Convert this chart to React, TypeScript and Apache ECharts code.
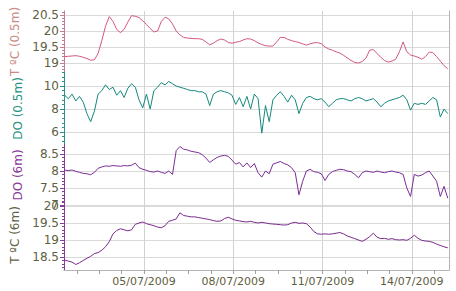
import React, { useEffect, useRef } from "react";
import * as echarts from "echarts";

// Sampling: data logger readings every 3 hours starting 02/07/2009 08:00 (UTC)
const START_UTC = Date.UTC(2009, 6, 2, 8, 0);
const STEP_HOURS = 3;

const tempSurface = [
  19.2, 19.21, 19.22, 19.23, 19.21, 19.18, 19.14, 19.09, 19.1, 19.3,
  19.7, 20.15, 20.45, 20.3, 20.05, 19.95, 20.05, 20.28, 20.48, 20.46,
  20.42, 20.32, 20.2, 20.08, 19.97, 20.0, 20.3, 20.43, 20.38, 20.22,
  20.0, 19.88, 19.8, 19.78, 19.77, 19.76, 19.76, 19.74, 19.66, 19.57,
  19.62, 19.7, 19.75, 19.72, 19.64, 19.62, 19.65, 19.67, 19.72, 19.76,
  19.75, 19.7, 19.63, 19.58, 19.54, 19.53, 19.53, 19.66, 19.8, 19.8,
  19.74, 19.7, 19.67, 19.64, 19.6, 19.56, 19.6, 19.63, 19.64, 19.6,
  19.5, 19.44, 19.4, 19.35, 19.31, 19.24, 19.16, 19.08, 19.02, 19.0,
  19.05, 19.15, 19.4, 19.42, 19.3, 19.18, 19.08, 19.03, 19.06, 19.12,
  19.35, 19.66, 19.35, 19.25, 19.22, 19.18, 19.12, 19.2, 19.34, 19.33,
  19.2, 19.06, 18.92, 18.82,
];

const doSurface = [
  9.2, 8.9, 9.3, 8.7, 9.1, 8.6, 7.6, 6.9, 7.8, 9.3,
  9.6, 10.1, 9.7, 9.9, 9.2, 9.6, 9.0, 9.8, 10.2, 9.9,
  8.8, 8.1, 9.3, 8.0, 9.6, 9.9, 10.3, 10.1, 10.4, 10.2,
  10.0, 9.9, 9.8, 9.7, 9.6, 9.6, 9.5, 9.5, 9.3, 8.3,
  9.3, 9.5, 9.6, 9.5, 9.4, 9.2, 8.4, 9.0, 8.2, 9.1,
  8.0, 9.3, 8.9, 5.9, 8.3, 6.9, 8.8, 9.2, 9.5, 9.1,
  8.6, 9.2, 8.8, 7.6, 8.5, 9.0, 9.1, 8.9, 8.8, 8.9,
  8.6, 8.2, 8.5, 8.8, 8.9, 8.9, 8.8, 8.7, 8.9, 9.0,
  8.9, 8.7, 8.8, 8.9, 8.6, 8.2, 8.5, 8.7, 8.8, 8.9,
  9.0, 9.2, 8.8, 7.9, 8.5, 8.4, 8.5, 8.4, 8.7, 9.0,
  8.8, 7.3, 8.0, 7.6,
];

const doDeep = [
  8.03, 8.01, 8.03, 7.99, 7.96, 7.93, 7.92, 7.89, 7.96, 8.08,
  8.12, 8.15, 8.14, 8.16, 8.15, 8.14, 8.16, 8.15, 8.17, 8.23,
  8.1, 8.05, 8.02, 7.98, 7.97, 8.0, 7.96, 7.93, 8.0, 7.9,
  8.6, 8.72, 8.64, 8.62, 8.58, 8.56, 8.54, 8.48, 8.38, 8.25,
  8.33, 8.4, 8.44, 8.46, 8.43, 8.32, 8.2, 8.25, 8.12, 8.24,
  8.1, 8.22, 7.95, 7.82, 8.0, 7.92, 8.2, 8.24, 8.28, 8.22,
  8.18, 8.1, 7.95, 7.3, 7.7, 8.0, 8.05, 7.98, 7.96, 7.92,
  7.72, 7.9, 7.98, 8.02, 8.05, 8.04, 8.0, 7.98, 7.9, 7.8,
  7.95, 8.0, 7.98, 7.96, 8.0, 7.97, 7.95, 7.98, 8.0, 7.97,
  7.95, 7.9, 7.5, 7.25, 7.9, 7.85, 7.88, 7.95, 8.0, 7.85,
  7.7, 7.25, 7.55, 7.2,
];

const tempDeep = [
  18.41, 18.38, 18.35, 18.28, 18.33, 18.4, 18.46, 18.52, 18.6, 18.63,
  18.7, 18.8, 18.95, 19.18, 19.28, 19.33, 19.3, 19.27, 19.3, 19.46,
  19.5, 19.53, 19.48, 19.45, 19.42, 19.38, 19.36, 19.42, 19.55, 19.58,
  19.62, 19.8, 19.72, 19.7, 19.68, 19.68, 19.66, 19.64, 19.62, 19.6,
  19.57, 19.55, 19.56, 19.63, 19.67, 19.62, 19.58, 19.56, 19.54, 19.53,
  19.55, 19.52, 19.5, 19.52, 19.5, 19.48, 19.47, 19.46, 19.45, 19.44,
  19.45, 19.5, 19.52, 19.49, 19.5, 19.48, 19.38, 19.25, 19.18, 19.17,
  19.18, 19.17, 19.18, 19.2, 19.22, 19.18, 19.12, 19.08, 19.04, 19.0,
  18.96, 19.02, 19.1, 19.2, 19.08, 19.04, 19.05, 19.02, 19.04, 19.01,
  19.0, 19.01, 18.99, 19.05, 19.14, 19.05, 18.99, 18.97, 18.96, 18.93,
  18.88, 18.84, 18.8, 18.77,
];

// Axis ticks / labels
const dateLabels = [
  Date.UTC(2009, 6, 5),
  Date.UTC(2009, 6, 8),
  Date.UTC(2009, 6, 11),
  Date.UTC(2009, 6, 14),
];
const tempSurfaceTicks = [19, 19.5, 20, 20.5];
const doSurfaceTicks = [6, 8, 10];
const doDeepTicks = [7, 7.5, 8, 8.5];
const tempDeepTicks = [18.5, 19, 19.5, 20];

const X_MIN = Date.UTC(2009, 6, 2, 7, 30);
const X_MAX = Date.UTC(2009, 6, 15, 6, 0);
const HOUR = 3600 * 1000;

const FONT = "DejaVu Sans";
const TICK_TEXT = "#5f6040";
const GRID_LINE = "#dadada";
const FRAME = "#b4b4b4";

function steps(from: number, to: number, step: number): number[] {
  const out: number[] = [];
  const n = Math.round((to - from) / step);
  for (let k = 0; k <= n; k++) out.push(Math.round((from + k * step) * 1000) / 1000);
  return out;
}

function pad(n: number) {
  return n < 10 ? "0" + n : String(n);
}
function fmtDate(v: number) {
  const d = new Date(v);
  return pad(d.getUTCDate()) + "/" + pad(d.getUTCMonth() + 1) + "/" + d.getUTCFullYear();
}

export default function App() {
  const ref = useRef<HTMLDivElement>(null);

  useEffect(() => {
    if (!ref.current) return;
    const chart = echarts.init(ref.current, undefined, { renderer: "svg" });

    const toSeries = (vals: number[]) =>
      vals.map((v, i) => [START_UTC + i * STEP_HOURS * HOUR, v]);

    const xTicks: number[] = [];
    for (let t = dateLabels[0] - 3 * 18 * HOUR; t <= X_MAX; t += 18 * HOUR) xTicks.push(t);

    const panels = [
      { top: 11, height: 61, min: 18.72, max: 20.625, ticks: tempSurfaceTicks, minor: steps(18.8, 20.6, 0.1), name: "T ºC (0.5m)", nameColor: "#c98c86", axisColor: "#c77a94", lineColor: "#d4577f", data: tempSurface },
      { top: 72, height: 73, min: 4.87, max: 11.22, ticks: doSurfaceTicks, minor: steps(5.2, 11.2, 0.4), name: "DO (0.5m)", nameColor: "#2a9484", axisColor: "#2a9484", lineColor: "#14897d", data: doSurface },
      { top: 145, height: 60, min: 7.0, max: 8.765, ticks: doDeepTicks, minor: steps(7.0, 8.7, 0.1), name: "DO (6m)", nameColor: "#8a3a98", axisColor: "#8a3a98", lineColor: "#7b2d96", data: doDeep },
      { top: 200, height: 70, min: 18.118, max: 20.176, ticks: tempDeepTicks, minor: steps(18.2, 20.1, 0.1), name: "T ºC (6m)", nameColor: "#5e6347", axisColor: "#8a3a98", lineColor: "#7a2a8c", data: tempDeep },
    ];

    const grids: any[] = panels.map((p) => ({ left: 64, right: 7, top: p.top, height: p.height }));
    grids.push({ left: 64, right: 7, top: 11, height: 259 });

    const xAxes: any[] = panels.map((p, g) => {
      const base: any = { gridIndex: g, type: "value", min: X_MIN, max: X_MAX };
      if (g < 3) return { ...base, show: false };
      return {
        ...base,
        position: "bottom",
        axisLine: { show: true, lineStyle: { color: FRAME } },
        axisTick: { show: true, length: 4, customValues: xTicks, lineStyle: { color: "#a0a0a0" } },
        axisLabel: { customValues: dateLabels, formatter: (v: number) => fmtDate(v), color: TICK_TEXT, fontSize: 11, fontFamily: FONT, margin: 6 },
        splitLine: { show: false },
      };
    });
    xAxes.push({
      gridIndex: 4,
      type: "value",
      min: X_MIN,
      max: X_MAX,
      position: "top",
      axisLine: { show: true, lineStyle: { color: FRAME } },
      axisTick: { show: false, customValues: dateLabels },
      axisLabel: { show: false },
      splitLine: { show: true, lineStyle: { color: "#d2d2d2" } },
    });

    const yAxes: any[] = panels.map((p, g) => ({
      gridIndex: g,
      type: "value",
      min: p.min,
      max: p.max,
      position: "left",
      axisLine: { show: true, lineStyle: { color: p.axisColor } },
      axisTick: { show: true, length: 4, customValues: p.ticks, lineStyle: { color: p.axisColor } },
      axisLabel: { customValues: p.ticks, formatter: (v: number) => String(v), color: TICK_TEXT, fontSize: 12, fontFamily: FONT, margin: 5 },
      splitLine: { show: true, lineStyle: { color: GRID_LINE } },
      name: p.name,
      nameLocation: "middle",
      nameGap: 40,
      nameTextStyle: { color: p.nameColor, fontSize: 12, fontFamily: FONT },
    }));
    panels.forEach((p, g) => {
      yAxes.push({
        gridIndex: g,
        type: "value",
        min: p.min,
        max: p.max,
        position: "left",
        axisLine: { show: false },
        axisTick: { show: true, length: 2, customValues: p.minor, lineStyle: { color: p.axisColor } },
        axisLabel: { show: false },
        splitLine: { show: false },
      });
    });
    yAxes.push({
      gridIndex: 4,
      type: "value",
      min: 0,
      max: 1,
      position: "right",
      axisLine: { show: true, lineStyle: { color: FRAME } },
      axisTick: { show: false },
      axisLabel: { show: false },
      splitLine: { show: false },
    });

    const series = panels.map((p, g) => ({
      type: "line",
      xAxisIndex: g,
      yAxisIndex: g,
      data: toSeries(p.data),
      showSymbol: false,
      symbol: "none",
      lineStyle: { color: p.lineColor, width: 1 },
      itemStyle: { color: p.lineColor },
      z: 3,
    }));

    chart.setOption({
      animation: false,
      backgroundColor: "#ffffff",
      grid: grids,
      xAxis: xAxes,
      yAxis: yAxes,
      series,
    });

    return () => chart.dispose();
  }, []);

  return <div ref={ref} style={{ width: 456, height: 291, position: "absolute", left: 0, top: 0 }} />;
}
